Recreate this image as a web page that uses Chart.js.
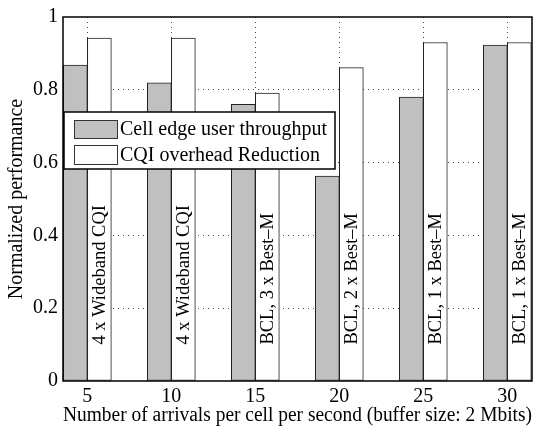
<!DOCTYPE html>
<html>
<head>
<meta charset="utf-8">
<script src="https://cdn.jsdelivr.net/npm/chart.js@4/dist/chart.umd.min.js"></script>
<style>
  html, body { margin: 0; padding: 0; background: #fff; }
  #wrap { width: 540px; height: 431px; }
</style>
</head>
<body>
<div id="wrap"><canvas id="c" width="540" height="431"></canvas></div>
<script>
// ---- data ----
const categories = [5, 10, 15, 20, 25, 30];
const cellEdgeThroughput = [0.868, 0.819, 0.760, 0.563, 0.780, 0.923];
const cqiOverheadReduction = [0.942, 0.942, 0.791, 0.861, 0.930, 0.930];
const barLabels = ['4 x Wideband CQI', '4 x Wideband CQI', 'BCL, 3 x Best\u2013M',
                   'BCL, 2 x Best\u2013M', 'BCL, 1 x Best\u2013M', 'BCL, 1 x Best\u2013M'];
const seriesNames = ['Cell edge user throughput', 'CQI overhead Reduction'];
const yTicks = [0, 0.2, 0.4, 0.6, 0.8, 1];
const yTickLabels = ['0', '0.2', '0.4', '0.6', '0.8', '1'];
const xTitle = 'Number of arrivals per cell per second (buffer size: 2 Mbits)';
const yTitle = 'Normalized performance';

const FONT = '"Liberation Serif", "Times New Roman", serif';
const GRAY = '#c0c0c0';

const barLabelPlugin = {
  id: 'barLabels',
  afterDatasetsDraw(chart) {
    const ctx = chart.ctx;
    const meta = chart.getDatasetMeta(1);
    const ys = chart.scales.y;
    ctx.save();
    ctx.font = '18.5px ' + FONT;
    ctx.fillStyle = '#000';
    ctx.textAlign = 'left';
    ctx.textBaseline = 'middle';
    meta.data.forEach((el, i) => {
      const x = el.x;
      const y = ys.getPixelForValue(0.1);
      ctx.save();
      ctx.translate(x + 1, y);
      ctx.rotate(-Math.PI / 2);
      ctx.fillText(barLabels[i], 0, 0);
      ctx.restore();
    });
    ctx.restore();
  }
};

const boxPlugin = {
  id: 'box',
  afterDatasetsDraw(chart) {
    const {ctx, chartArea: a} = chart;
    ctx.save();
    ctx.strokeStyle = '#000';
    ctx.lineWidth = 1.5;
    ctx.strokeRect(a.left, a.top, a.right - a.left, a.bottom - a.top);
    ctx.restore();
  }
};

const legendPlugin = {
  id: 'boxLegend',
  afterDraw(chart) {
    const ctx = chart.ctx;
    const x0 = 64, y0 = 112, w = 271, h = 57;
    ctx.save();
    ctx.fillStyle = '#fff';
    ctx.fillRect(x0, y0, w, h);
    ctx.strokeStyle = '#000';
    ctx.lineWidth = 1.5;
    ctx.strokeRect(x0, y0, w, h);
    const rows = [{y: 120, h: 18}, {y: 145, h: 19}];
    ctx.font = '20px ' + FONT;
    ctx.textAlign = 'left';
    ctx.textBaseline = 'middle';
    chart.data.datasets.forEach((ds, i) => {
      const r = rows[i];
      ctx.fillStyle = ds.backgroundColor;
      ctx.fillRect(74.5, r.y + 0.5, 43, r.h);
      ctx.lineWidth = 1;
      ctx.strokeStyle = '#333';
      ctx.strokeRect(74.5, r.y + 0.5, 43, r.h);
      ctx.fillStyle = '#000';
      ctx.fillText(ds.label, 120, r.y + r.h / 2 + 1);
    });
    ctx.restore();
  }
};

new Chart(document.getElementById('c'), {
  type: 'bar',
  data: {
    datasets: [
      {
        label: seriesNames[0],
        data: categories.map((c, i) => ({x: c, y: cellEdgeThroughput[i]})),
        backgroundColor: GRAY,
        borderColor: '#222',
        borderWidth: 1,
        borderSkipped: false,
        barThickness: 24
      },
      {
        label: seriesNames[1],
        data: categories.map((c, i) => ({x: c, y: cqiOverheadReduction[i]})),
        backgroundColor: '#ffffff',
        borderColor: '#222',
        borderWidth: 1,
        borderSkipped: false,
        barThickness: 24
      }
    ]
  },
  options: {
    responsive: false,
    animation: false,
    events: [],
    layout: { padding: { top: 12, right: 8, left: 0, bottom: 0 } },
    plugins: { legend: { display: false }, tooltip: { enabled: false } },
    scales: {
      x: {
        type: 'linear',
        offset: false,
        min: 3.55,
        max: 31.47,
        afterBuildTicks(scale) { scale.ticks = categories.map(v => ({value: v})); },
        afterFit(scale) { scale.height = 50; },
        ticks: {
          callback: (v) => String(v),
          font: { family: FONT, size: 20 },
          color: '#000',
          padding: 4,
          maxRotation: 0,
          autoSkip: false
        },
        grid: { color: '#444', lineWidth: 1, drawTicks: false, offset: false },
        border: { display: false, dash: [1, 4] },
        title: {
          display: true,
          text: xTitle,
          font: { family: FONT, size: 20 },
          color: '#000',
          padding: { top: 0, bottom: 3 }
        }
      },
      y: {
        min: 0,
        max: 1,
        afterBuildTicks(scale) { scale.ticks = yTicks.map(v => ({value: v})); },
        afterFit(scale) { scale.width = 63; },
        ticks: {
          callback: (v, i) => yTickLabels[i],
          font: { family: FONT, size: 20 },
          color: '#000',
          padding: 5
        },
        grid: {
          color: (ctx) => (ctx.tick && (ctx.tick.value === 0 || ctx.tick.value === 1)) ? 'rgba(0,0,0,0)' : '#444',
          lineWidth: 1,
          drawTicks: false
        },
        border: { display: false, dash: [1, 4] },
        title: {
          display: true,
          text: yTitle,
          font: { family: FONT, size: 20 },
          color: '#000',
          padding: { top: 5, bottom: 0 }
        }
      }
    }
  },
  plugins: [barLabelPlugin, boxPlugin, legendPlugin]
});
</script>
</body>
</html>
